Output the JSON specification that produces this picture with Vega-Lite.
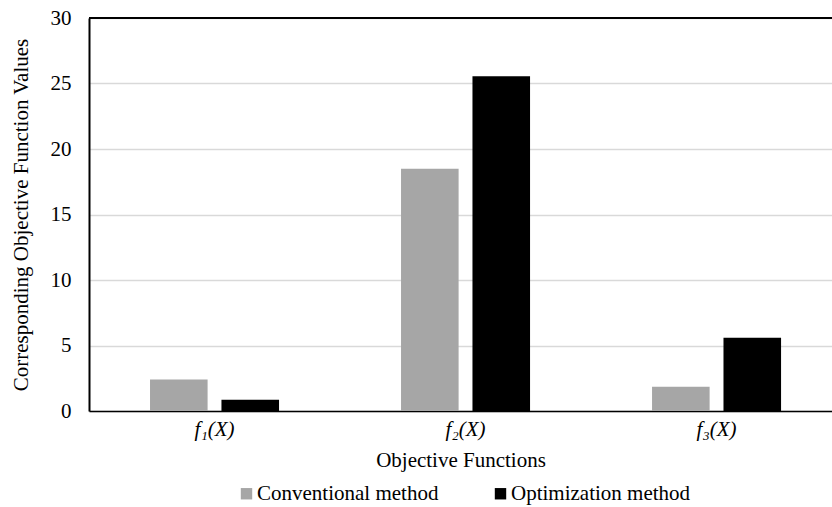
{
  "$schema": "https://vega.github.io/schema/vega-lite/v6.json",
  "width": 743,
  "height": 393,
  "autosize": {"type": "none"},
  "padding": {"left": 89, "top": 18, "right": 0, "bottom": 96},
  "config": {
    "font": "Liberation Serif",
    "view": {"stroke": null},
    "axis": {
      "labelColor": "#000000",
      "titleColor": "#000000",
      "titleFontWeight": "normal",
      "labelFontSize": 21,
      "titleFontSize": 21,
      "ticks": false
    },
    "legend": {
      "labelColor": "#000000",
      "labelFontSize": 21,
      "labelLimit": 400
    }
  },
  "data": {
    "values": [
      {"func": "f₁(X)", "method": "Conventional method", "value": 2.4},
      {"func": "f₁(X)", "method": "Optimization method", "value": 0.85},
      {"func": "f₂(X)", "method": "Conventional method", "value": 18.5},
      {"func": "f₂(X)", "method": "Optimization method", "value": 25.55},
      {"func": "f₃(X)", "method": "Conventional method", "value": 1.85},
      {"func": "f₃(X)", "method": "Optimization method", "value": 5.6}
    ]
  },
  "layer": [
    {
      "mark": {"type": "bar"},
      "encoding": {
        "x": {
          "field": "func",
          "type": "nominal",
          "sort": null,
          "title": "Objective Functions",
          "scale": {"paddingInner": 0.486, "paddingOuter": 0.223, "align": 0.545},
          "axis": {
            "labelAngle": 0,
            "labelFontStyle": "italic",
            "labelPadding": 7,
            "titlePadding": 10,
            "domainColor": "#000000",
            "domainWidth": 1.5
          }
        },
        "xOffset": {
          "field": "method",
          "type": "nominal",
          "scale": {"paddingInner": 0.194, "paddingOuter": 0}
        },
        "y": {
          "field": "value",
          "type": "quantitative",
          "title": "Corresponding Objective Function Values",
          "scale": {"domain": [0, 30], "nice": false},
          "axis": {
            "values": [0, 5, 10, 15, 20, 25, 30],
            "gridColor": "#d9d9d9",
            "gridWidth": 1.5,
            "domainColor": "#000000",
            "domainWidth": 2,
            "labelPadding": 18,
            "titlePadding": 19
          }
        },
        "color": {
          "field": "method",
          "type": "nominal",
          "scale": {
            "domain": ["Conventional method", "Optimization method"],
            "range": ["#a6a6a6", "#000000"]
          },
          "legend": {
            "title": null,
            "orient": "none",
            "direction": "horizontal",
            "legendX": 147,
            "legendY": 465,
            "symbolType": "square",
            "symbolSize": 130,
            "symbolStrokeWidth": 0,
            "symbolOffset": 0,
            "labelOffset": 0,
            "columnPadding": 51
          }
        }
      }
    },
    {
      "mark": {"type": "rule", "color": "#000000", "strokeWidth": 2},
      "encoding": {"y": {"datum": 30}}
    }
  ]
}
